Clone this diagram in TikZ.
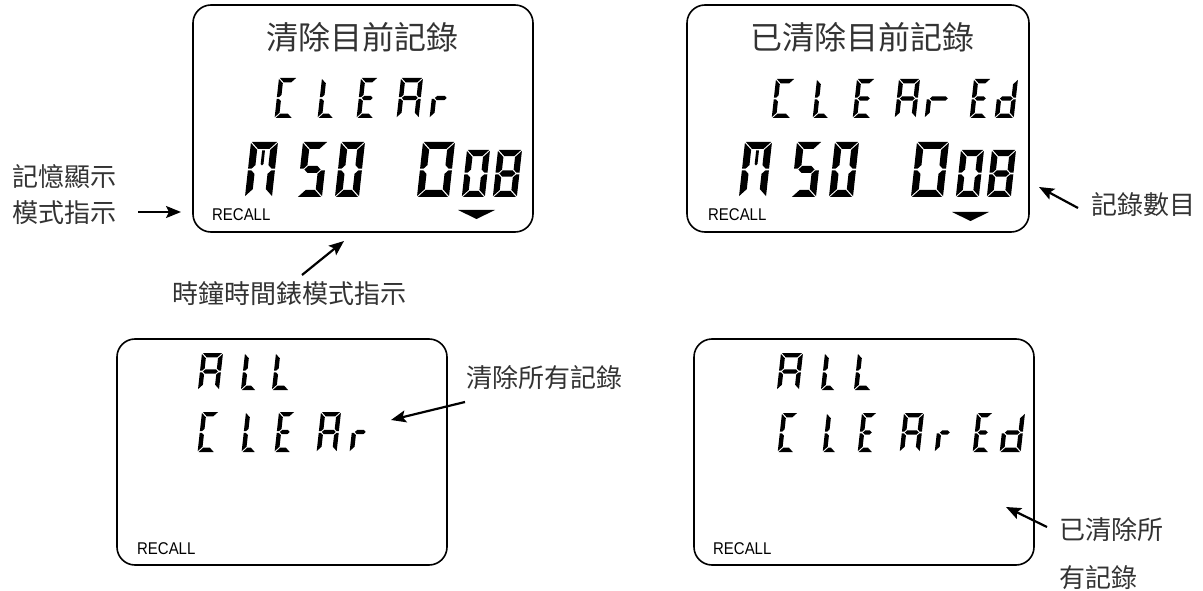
\documentclass[tikz,border=0pt]{standalone}
\usepackage{fontspec}
\setsansfont{Liberation Sans}
\newfontfamily\cjk{Noto Sans CJK TC}
\usetikzlibrary{arrows.meta}

\def\lcdslant{0.11}
\def\lG{0.9}
\def\lcdSa{\fill ({\lG},0) -- ({\lW-\lG},0) -- ({\lW-\lT-\lG},{\lT}) -- ({\lT+\lG},{\lT}) -- cycle;}
\def\lcdSd{\fill ({\lG},{\lH}) -- ({\lW-\lG},{\lH}) -- ({\lW-\lT-\lG},{\lH-\lT}) -- ({\lT+\lG},{\lH-\lT}) -- cycle;}
\def\lcdSg{\fill ({\lT/2+\lG},{\lH/2}) -- ({\lT+\lG},{\lH/2-\lT/2}) -- ({\lW-\lT-\lG},{\lH/2-\lT/2}) -- ({\lW-\lT/2-\lG},{\lH/2}) -- ({\lW-\lT-\lG},{\lH/2+\lT/2}) -- ({\lT+\lG},{\lH/2+\lT/2}) -- cycle;}
\def\lcdSf{\fill (0,{\lG}) -- ({\lT},{\lT+\lG}) -- ({\lT},{\lH/2-\lT/2-\lG}) -- ({\lT/2},{\lH/2-\lG}) -- (0,{\lH/2-\lG}) -- cycle;}
\def\lcdSe{\fill (0,{\lH/2+\lG}) -- ({\lT/2},{\lH/2+\lG}) -- ({\lT},{\lH/2+\lT/2+\lG}) -- ({\lT},{\lH-\lT-\lG}) -- (0,{\lH-\lG}) -- cycle;}
\def\lcdSb{\fill ({\lW},{\lG}) -- ({\lW-\lT},{\lT+\lG}) -- ({\lW-\lT},{\lH/2-\lT/2-\lG}) -- ({\lW-\lT/2},{\lH/2-\lG}) -- ({\lW},{\lH/2-\lG}) -- cycle;}
\def\lcdSc{\fill ({\lW},{\lH/2+\lG}) -- ({\lW-\lT/2},{\lH/2+\lG}) -- ({\lW-\lT},{\lH/2+\lT/2+\lG}) -- ({\lW-\lT},{\lH-\lT-\lG}) -- ({\lW},{\lH-\lG}) -- cycle;}
\def\lcdSm{\fill ({\lW/2-1.4},{\lT+1.5}) -- ({\lW/2+1.4},{\lT+1.5}) -- ({\lW/2+1.4},{\lH*0.4}) -- ({\lW/2},{\lH*0.4+1.5}) -- ({\lW/2-1.4},{\lH*0.4}) -- cycle;}
\newcommand\lcdchar[6]{\def\lW{#3}\def\lH{#4}\def\lT{#5}%
  \begin{scope}[shift={(#1,#2)},xslant=\lcdslant]\foreach \s in #6 {\csname lcdS\s\endcsname}\end{scope}}
\def\sgC{a,d,e,f}
\def\sgL{d,e,f}
\def\sgE{a,d,e,f,g}
\def\sgA{a,b,c,e,f,g}
\def\sgr{e,g}
\def\sgd{b,c,d,e,g}
\def\sgM{a,b,c,e,f,m}
\def\sgV{a,f,g,c,d}
\def\sgO{a,b,c,d,e,f}
\def\sgB{a,b,c,d,e,f,g}

\tikzset{
  lcdbox/.style={draw, line width=1.6pt, rounded corners=18pt, inner sep=0pt},
  cjklabel/.style={font=\fontsize{26}{26}\cjk, text=black!80, inner sep=0pt},
  cjktitle/.style={font=\fontsize{32}{32}\cjk, text=black!80, inner sep=0pt},
  recall/.style={font=\fontsize{17}{17}\sffamily, inner sep=0pt, anchor=west, xscale=0.88, transform shape},
  callout/.style={line width=2.2pt, -{Stealth[length=15pt,width=12pt,inset=3pt]}},
}

\begin{document}
\begin{tikzpicture}[x=1pt,y=-1pt]
\useasboundingbox (0,0) rectangle (1203,591);

% boxes
\node[lcdbox, minimum width=340pt, minimum height=227pt] (b1) at (363,118.5) {};
\node[lcdbox, minimum width=342pt, minimum height=227pt] (b2) at (858,118.5) {};
\node[lcdbox, minimum width=330pt, minimum height=226pt] (b3) at (282,452) {};
\node[lcdbox, minimum width=340pt, minimum height=226pt] (b4) at (864,452) {};

% titles
\node[cjktitle] (t1) at (362,37) {清除目前記錄};
\node[cjktitle] (t2) at (862,37) {已清除目前記錄};

% RECALL
\node[recall] (r1) at (212,214.5) {RECALL};
\node[recall] (r2) at (708,214.5) {RECALL};
\node[recall] (r3) at (137,548.5) {RECALL};
\node[recall] (r4) at (713,548.5) {RECALL};

% box 1 : CLEAr
\lcdchar{279}{78}{18}{40}{4.4}{\sgC}
\lcdchar{322}{78}{16}{40}{4.4}{\sgL}
\lcdchar{361}{78}{17}{40}{4.4}{\sgE}
\lcdchar{401}{78}{22}{40}{4.4}{\sgA}
\lcdchar{434}{78}{18}{40}{4.4}{\sgr}
% box 1 : M50 008
\lcdchar{251}{142}{27}{55}{7}{\sgM}
\lcdchar{303}{142}{25}{55}{7}{\sgV}
\lcdchar{341}{142}{24}{55}{7}{\sgO}
\lcdchar{423}{142}{32}{55}{7}{\sgO}
\lcdchar{467}{150}{23}{47}{6.2}{\sgO}
\lcdchar{498}{150}{24}{47}{6.2}{\sgB}
\fill (458,210) -- (495,210) -- (476.5,219) -- cycle;

% box 2 : CLEArEd
\lcdchar{776}{79}{19}{39}{4.4}{\sgC}
\lcdchar{817}{79}{16}{39}{4.4}{\sgL}
\lcdchar{857}{79}{18}{39}{4.4}{\sgE}
\lcdchar{899}{79}{21}{39}{4.4}{\sgA}
\lcdchar{929}{79}{24}{39}{4.4}{\sgr}
\lcdchar{974}{79}{17}{39}{4.4}{\sgE}
\lcdchar{999}{79}{19}{39}{4.4}{\sgd}
% box 2 : M50 008
\lcdchar{745}{142}{27}{55}{7}{\sgM}
\lcdchar{797}{142}{25}{55}{7}{\sgV}
\lcdchar{835}{142}{24}{55}{7}{\sgO}
\lcdchar{917}{142}{32}{55}{7}{\sgO}
\lcdchar{961}{150}{23}{47}{6.2}{\sgO}
\lcdchar{992}{150}{24}{47}{6.2}{\sgB}
\fill (952,212) -- (989,212) -- (970.5,221) -- cycle;

% box 3 : ALL / CLEAr
\lcdchar{202}{353}{21}{37}{4.4}{\sgA}
\lcdchar{245}{353}{15}{37}{4.4}{\sgL}
\lcdchar{276}{353}{17}{37}{4.4}{\sgL}
\lcdchar{202}{412}{17}{40}{4.4}{\sgC}
\lcdchar{246}{412}{14}{40}{4.4}{\sgL}
\lcdchar{279}{412}{16}{40}{4.4}{\sgE}
\lcdchar{321}{412}{20}{40}{4.4}{\sgA}
\lcdchar{354}{412}{17}{40}{4.4}{\sgr}

% box 4 : ALL / CLEArEd
\lcdchar{781}{353}{22}{37}{4.4}{\sgA}
\lcdchar{825}{353}{14}{37}{4.4}{\sgL}
\lcdchar{858}{353}{17}{37}{4.4}{\sgL}
\lcdchar{782}{413}{16}{39}{4.4}{\sgC}
\lcdchar{827}{413}{13}{39}{4.4}{\sgL}
\lcdchar{862}{413}{15}{39}{4.4}{\sgE}
\lcdchar{904}{413}{20}{39}{4.4}{\sgA}
\lcdchar{939}{413}{16}{39}{4.4}{\sgr}
\lcdchar{977}{413}{16}{39}{4.4}{\sgE}
\lcdchar{1004}{413}{21}{39}{4.4}{\sgd}

% labels
\node[cjklabel, anchor=west] (lm1) at (12,177) {記憶顯示};
\node[cjklabel, anchor=west] (lm2) at (12,213) {模式指示};
\node[cjklabel, anchor=west] (lclk) at (172,294) {時鐘時間錶模式指示};
\node[cjklabel, anchor=west] (lnum) at (1091,205) {記錄數目};
\node[cjklabel, anchor=west] (lall) at (466,378) {清除所有記錄};
\node[cjklabel, anchor=west] (ldone1) at (1059,530) {已清除所};
\node[cjklabel, anchor=west] (ldone2) at (1059,578) {有記錄};

% arrow ends
\coordinate (a1s) at (138,212);  \coordinate (a1e) at (181,212);
\coordinate (a2s) at (302,275);  \coordinate (a2e) at (344,241);
\coordinate (a3s) at (1078,208); \coordinate (a3e) at (1039,187);
\coordinate (a4s) at (465,402);  \coordinate (a4e) at (391,420);
\coordinate (a5s) at (1047,527); \coordinate (a5e) at (1006,507);

\draw[callout] (a1s) -- (a1e);
\draw[callout] (a2s) -- (a2e);
\draw[callout] (a3s) -- (a3e);
\draw[callout] (a4s) -- (a4e);
\draw[callout] (a5s) -- (a5e);
\end{tikzpicture}
\end{document}
